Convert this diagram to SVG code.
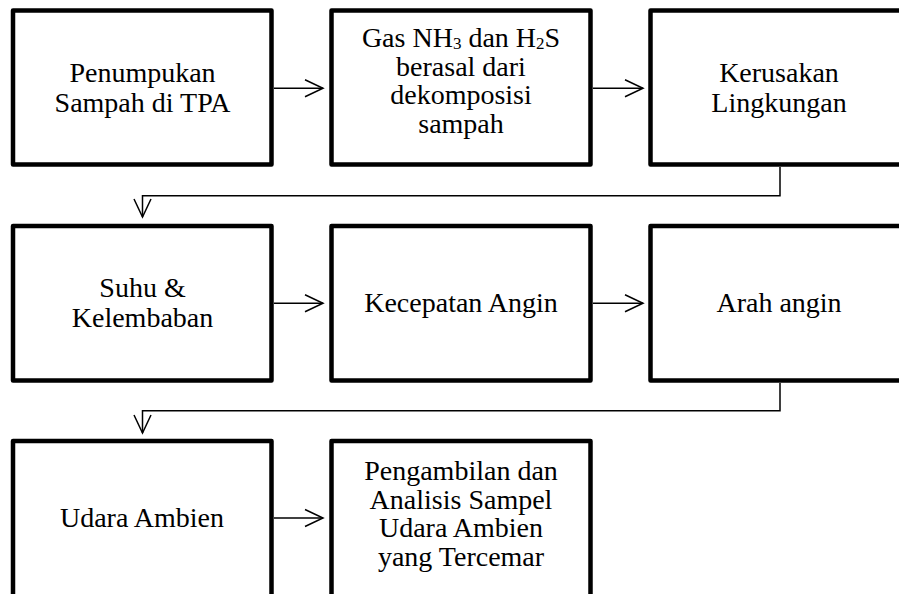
<svg xmlns="http://www.w3.org/2000/svg" width="899" height="594" viewBox="0 0 899 594">
<style>
.box{fill:#fff;stroke:#000;stroke-width:4.5;stroke-linejoin:round}
.lbl{font-family:"Liberation Serif","Times New Roman",serif;font-size:28px;fill:#000;text-anchor:middle}
.sub{font-size:17px}
.conn{fill:none;stroke:#000;stroke-width:1.5}
</style>
<defs>
<marker id="arr" markerUnits="userSpaceOnUse" markerWidth="22" markerHeight="22" viewBox="0 0 22 22" refX="19" refY="11" orient="auto">
<path d="M1,2.5 L19,11 L1,19.5" fill="none" stroke="#000" stroke-width="1.5"/>
</marker>
</defs>
<rect width="899" height="594" fill="#fff"/>
<g id="connectors">
<path class="conn" d="M274,88.3 H323" marker-end="url(#arr)"/>
<path class="conn" d="M593,88.3 H643" marker-end="url(#arr)"/>
<path class="conn" d="M780,167 V195.7 H142.5 V217" marker-end="url(#arr)"/>
<path class="conn" d="M274,303.3 H323" marker-end="url(#arr)"/>
<path class="conn" d="M593,303.3 H643" marker-end="url(#arr)"/>
<path class="conn" d="M780,383 V410.7 H142.5 V433" marker-end="url(#arr)"/>
<path class="conn" d="M274,518 H323" marker-end="url(#arr)"/>
</g>
<g id="n1">
<rect class="box" x="13" y="10.5" width="258.5" height="154"/>
<text class="lbl" x="142.5" y="82">Penumpukan</text>
<text class="lbl" x="142.5" y="112">Sampah di TPA</text>
</g>
<g id="n2">
<rect class="box" x="331.5" y="10.5" width="259" height="154"/>
<text class="lbl" x="461" y="46.5">Gas NH<tspan class="sub" dy="2.5">3</tspan><tspan dy="-2.5"> dan H</tspan><tspan class="sub" dy="2.5">2</tspan><tspan dy="-2.5">S</tspan></text>
<text class="lbl" x="461" y="75.5">berasal dari</text>
<text class="lbl" x="461" y="104">dekomposisi</text>
<text class="lbl" x="461" y="132.5">sampah</text>
</g>
<g id="n3">
<rect class="box" x="650.5" y="10.5" width="259" height="154"/>
<text class="lbl" x="779" y="82">Kerusakan</text>
<text class="lbl" x="779" y="112">Lingkungan</text>
</g>
<g id="n4">
<rect class="box" x="13" y="226" width="258.5" height="154.5"/>
<text class="lbl" x="142.5" y="297">Suhu &amp;</text>
<text class="lbl" x="142.5" y="327">Kelembaban</text>
</g>
<g id="n5">
<rect class="box" x="331.5" y="226" width="259" height="154.5"/>
<text class="lbl" x="461" y="312">Kecepatan Angin</text>
</g>
<g id="n6">
<rect class="box" x="650.5" y="226" width="259" height="154.5"/>
<text class="lbl" x="779" y="312">Arah angin</text>
</g>
<g id="n7">
<rect class="box" x="13" y="441" width="258.5" height="200"/>
<text class="lbl" x="142" y="527">Udara Ambien</text>
</g>
<g id="n8">
<rect class="box" x="331.5" y="441" width="259" height="200"/>
<text class="lbl" x="461" y="480">Pengambilan dan</text>
<text class="lbl" x="461" y="508.5">Analisis Sampel</text>
<text class="lbl" x="461" y="537">Udara Ambien</text>
<text class="lbl" x="461" y="565.5">yang Tercemar</text>
</g>
</svg>
